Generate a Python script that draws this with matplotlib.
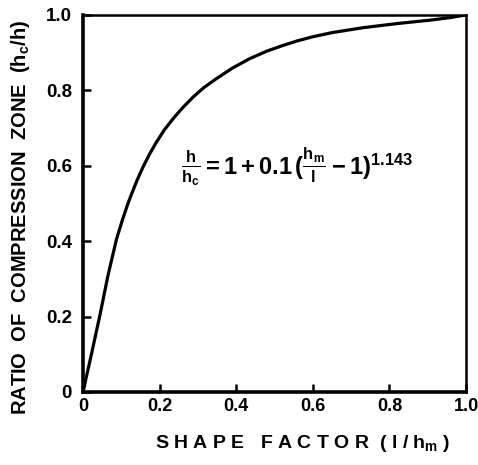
import numpy as np
import matplotlib
matplotlib.use("Agg")
import matplotlib.pyplot as plt

# values
shape_factor = [0, 0.007, 0.022, 0.044, 0.065, 0.087, 0.103, 0.117, 0.126, 0.141,
                0.157, 0.174, 0.191, 0.212, 0.235, 0.26, 0.287, 0.315, 0.348, 0.39,
                0.435, 0.48, 0.522, 0.559, 0.6, 0.65, 0.731, 0.82, 0.906, 0.96, 1.0]
ratio = [0, 0.034, 0.102, 0.205, 0.31, 0.405, 0.458, 0.500, 0.524, 0.562,
         0.598, 0.632, 0.662, 0.695, 0.725, 0.754, 0.782, 0.807, 0.831, 0.859,
         0.884, 0.904, 0.919, 0.931, 0.942, 0.953, 0.966, 0.977, 0.986, 0.993, 1.0]

ticks = [0, 0.2, 0.4, 0.6, 0.8, 1.0]
tick_labels = ["0", "0.2", "0.4", "0.6", "0.8", "1.0"]

plt.rcParams['font.family'] = ['Liberation Sans', 'DejaVu Sans']
plt.rcParams['font.weight'] = 'bold'
plt.rcParams['mathtext.fontset'] = 'custom'
plt.rcParams['mathtext.rm'] = 'Liberation Sans:bold'
plt.rcParams['mathtext.it'] = 'Liberation Sans:bold'
plt.rcParams['mathtext.bf'] = 'Liberation Sans:bold'

fig = plt.figure(figsize=(4.78, 4.65), dpi=100)
ax = fig.add_axes([0.174, 0.157, 0.801, 0.811])

ax.plot(shape_factor, ratio, color='black', lw=2.3,
        solid_joinstyle='round', solid_capstyle='round')

ax.set_xlim(0, 1.0)
ax.set_ylim(0, 1.0)
ax.set_xticks(ticks)
ax.set_xticklabels(tick_labels, fontsize=13)
ax.set_yticks(ticks)
ax.set_yticklabels(tick_labels, fontsize=13.5)
ax.tick_params(direction='in', length=6, width=1.8)
ax.tick_params(axis='x', pad=4)
ax.tick_params(axis='y', pad=8)

for side in ['left', 'bottom']:
    ax.spines[side].set_linewidth(2.6)
for side in ['top', 'right']:
    ax.spines[side].set_linewidth(1.8)

ax.text(0.255, 0.597, r'$\frac{\mathrm{h}}{\mathrm{h_c}}$' + r'$=1+0.1\,(\frac{\mathrm{h_m}}{\mathrm{l}}-1)^{1.143}$',
        fontsize=17, ha='left', va='center')

fig.text(0.634, 0.047, "S H A P E   F A C T O R  ( l / h$_\\mathrm{m}$ )", fontsize=14,
         ha='center', va='center')
fig.text(0.042, 0.533, "RATIO  OF  COMPRESSION  ZONE  (h$_\\mathrm{c}$/h)", fontsize=14.5,
         ha='center', va='center', rotation=90)

fig.savefig("out.png", dpi=100)
